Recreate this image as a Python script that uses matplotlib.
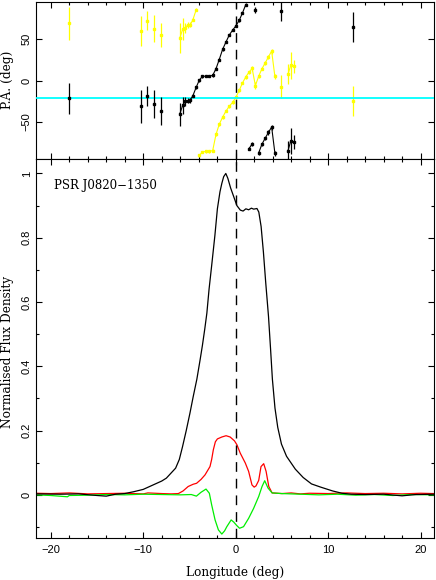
import numpy as np
import matplotlib
matplotlib.use("Agg")
import matplotlib.pyplot as plt

# ---- position angle data (deg)
pa_lon = [-18.0, -10.2, -9.6, -8.85, -8.1, -6.05, -5.74, -5.45, -5.18, -4.92,
          -4.63, -4.27, -3.94, -3.60, -3.23, -2.87, -2.49, -2.13, -1.78, -1.42,
          -1.06, -0.70, -0.33, 0.02, 0.38, 0.73, 1.09, 1.43, 1.78, 2.13,
          2.48, 2.84, 3.19, 3.54, 3.89, 4.24, 4.94, 5.65, 5.96, 6.36, 12.7]
pa_black = [-21.6, -30.9, -19.1, -28.5, -36.6, -40.6, -30.0, -25.2, -24.4, -23.6,
            -18.3, -8.1, 0.4, 5.0, 5.2, 5.3, 6.1, 14.2, 25.2, 37.4,
            46.2, 54.7, 60.8, 65.8, 72.5, 81.3, 91.5, -82.3, -76.4, 84.9,
            -87.4, -76.8, -69.5, -62.6, -56.1, -87.4, 83.3, -85.0, -72.8, -74.0, 65.0]
err_black = [19, 20, 12, 17, 17, 14, 10, 5, 3, 3,
             2, 2, 2, 1.5, 1.5, 1.5, 1.5, 1.5, 1.5, 1.5,
             1.5, 1.5, 1.5, 1.5, 1.5, 1.5, 2, 2, 2.5, 4,
             2, 2, 2, 2.5, 3, 3, 12, 12, 16, 8, 18]
pa_yellow = [69.0, 60.1, 72.3, 62.6, 54.9, 50.8, 61.8, 63.8, 67.0, 67.0,
             73.2, 85.4, -90.2, -86.2, -85.4, -85.4, -84.5, -65.0, -52.8, -44.3,
             -37.0, -31.1, -26.4, -20.3, -12.0, -3.0, 4.3, 10.0, 14.5, -6.1,
             4.9, 14.2, 21.1, 28.4, 35.5, 4.9, -7.3, 7.3, 18.3, 17.0, -25.0]
err_yellow = [20, 18, 12, 16, 14, 18, 13, 6, 4, 3,
              2, 2, 2, 1.5, 1.5, 1.5, 1.5, 1.5, 1.5, 1.5,
              1.5, 1.5, 1.5, 1.5, 1.5, 1.5, 2, 2, 2.5, 4,
              2, 2, 2, 2.5, 3, 3, 14, 12, 16, 8, 18]
pa_ref = -21.6

# ---- profiles (normalised flux)
lon_I = [-21.6, -19, -17, -15, -14, -13, -12, -11, -10, -9, -8, -7.5, -6.5, -6.1,
         -5.75, -5.35, -4.95, -4.6, -4.2, -3.85, -3.6, -3.35, -3.12, -2.88, -2.6,
         -2.25, -1.98, -1.7, -1.5, -1.3, -1.07, -0.85, -0.55, -0.24, 0.13, 0.5,
         0.8, 1.1, 1.4, 1.7, 1.95, 2.3, 2.5, 2.75, 3.0, 3.25, 3.55, 3.77, 3.97,
         4.25, 4.55, 4.95, 5.5, 6.45, 7.3, 8.2, 9.2, 10.5, 11.5, 12.5, 14, 16,
         18, 19.5, 21.4]
prof_I = [0.003, 0.002, 0.003, -0.002, -0.004, 0.002, 0.004, 0.01, 0.017, 0.03,
          0.043, 0.052, 0.083, 0.11, 0.15, 0.2, 0.254, 0.305, 0.36, 0.42, 0.465,
          0.515, 0.565, 0.64, 0.713, 0.807, 0.89, 0.943, 0.969, 0.99, 1.0,
          0.985, 0.955, 0.93, 0.9, 0.886, 0.883, 0.89, 0.887, 0.892, 0.889,
          0.891, 0.88, 0.835, 0.755, 0.66, 0.555, 0.455, 0.36, 0.27, 0.21,
          0.158, 0.12, 0.08, 0.054, 0.034, 0.024, 0.012, 0.005, 0.002, 0.001,
          0.002, -0.003, 0.001, 0.002]

lon_L = [-21.6, -20, -18, -16, -14, -12, -10, -9.5, -8, -7, -6.2, -5.7, -5.14,
         -4.6, -4.23, -3.75, -3.32, -2.78, -2.6, -2.42, -2.2, -1.98, -1.5, -1.04,
         -0.6, -0.13, 0.13, 0.49, 1.04, 1.4, 1.76, 2.0, 2.2, 2.49, 2.74, 3.03,
         3.29, 3.58, 3.94, 5, 6, 7, 8, 10, 12, 14, 16, 18, 20, 21.4]
prof_L = [0.005, 0.004, 0.006, 0.003, 0.004, 0.005, 0.003, 0.006, 0.004, 0.003,
          0.004, 0.012, 0.026, 0.033, 0.036, 0.048, 0.062, 0.088, 0.11, 0.14,
          0.165, 0.174, 0.18, 0.184, 0.18, 0.168, 0.156, 0.13, 0.099, 0.073,
          0.031, 0.024, 0.028, 0.045, 0.088, 0.097, 0.073, 0.026, 0.006, 0.004,
          0.006, 0.003, 0.005, 0.004, 0.006, 0.004, 0.005, 0.003, 0.005, 0.004]

lon_V = [-21.6, -20, -18.2, -18, -16, -14, -12, -10, -8, -6, -4.8, -4.25, -3.75,
         -3.21, -2.85, -2.6, -2.23, -1.87, -1.5, -1.2, -0.96, -0.49, -0.2, 0.1,
         0.42, 0.85, 1.4, 1.94, 2.49, 2.85, 3.14, 3.5, 3.94, 5, 7, 9, 11, 13,
         15, 17, 19, 21.4]
prof_V = [0.0, -0.002, -0.006, -0.002, -0.001, 0.001, 0.0, 0.002, 0.001, 0.0,
          0.001, -0.004, 0.008, 0.018, 0.005, -0.031, -0.078, -0.109, -0.122,
          -0.112, -0.099, -0.078, -0.085, -0.095, -0.104, -0.099, -0.073, -0.042,
          -0.005, 0.026, 0.044, 0.021, 0.006, 0.004, 0.002, 0.0, 0.002, -0.001,
          0.001, -0.002, 0.001, 0.0]

psr_name = "PSR J0820\u22121350"

sans = "Liberation Sans"
serif = "DejaVu Serif"
plt.rcParams["font.family"] = sans
plt.rcParams["axes.linewidth"] = 0.8


def segments(x, y, maxgap=0.5, maxjump=60):
    # split into runs of neighbouring bins, break at PA wraps
    runs, cur = [], [0]
    for i in range(1, len(x)):
        if x[i] - x[i - 1] > maxgap or abs(y[i] - y[i - 1]) > maxjump:
            runs.append(cur)
            cur = []
        cur.append(i)
    runs.append(cur)
    return runs


def draw_pa(ax, x, y, e, col, z):
    x, y, e = np.array(x), np.array(y), np.array(e)
    ax.errorbar(x, y, yerr=e, fmt="s", color=col, ms=1.6, elinewidth=0.9,
                capsize=0, zorder=z)
    for r in segments(x, y):
        if len(r) > 1:
            ax.plot(x[r], y[r], color=col, lw=0.8, zorder=z)


def style(ax):
    ax.tick_params(which="both", direction="in", top=True, right=True,
                   labelsize=8, width=0.8)
    ax.tick_params(which="major", length=4.5)
    ax.tick_params(which="minor", length=2.2)
    ax.tick_params(axis="y", labelrotation=90, pad=3)
    for lab in ax.get_yticklabels():
        lab.set_va("center")


fig = plt.figure(figsize=(4.36, 5.80), dpi=100)
ax1 = fig.add_axes([0.0826, 0.7253, 0.9117, 0.2718])
ax2 = fig.add_axes([0.0826, 0.072, 0.9117, 0.6533])

# top panel: position angle
draw_pa(ax1, pa_lon, pa_yellow, err_yellow, "#ffff00", 2)
ax1.axhline(pa_ref, color="#00ffff", lw=1.3, zorder=3)
draw_pa(ax1, pa_lon, pa_black, err_black, "black", 4)
ax1.axvline(0, color="black", lw=1.0, ls=(0, (7, 5)), zorder=5)
ax1.set_xlim(-21.6, 21.4)
ax1.set_ylim(-95, 95)
ax1.set_yticks([-50, 0, 50])
ax1.set_xticks(np.arange(-20, 21, 10))
ax1.set_xticks(np.arange(-20, 21, 2), minor=True)
ax1.set_xticklabels([])
style(ax1)

# bottom panel: profiles
ax2.plot(lon_I, prof_I, color="black", lw=0.9, zorder=3)
ax2.plot(lon_L, prof_L, color="#ff0000", lw=0.9, zorder=2)
ax2.plot(lon_V, prof_V, color="#00ee00", lw=0.9, zorder=2)
ax2.axvline(0, color="black", lw=1.0, ls=(0, (7, 5)), zorder=4)
ax2.set_xlim(-21.6, 21.4)
ax2.set_ylim(-0.135, 1.044)
ax2.set_xticks(np.arange(-20, 21, 10))
ax2.set_xticks(np.arange(-20, 21, 2), minor=True)
ax2.set_xticklabels(["\u221220", "\u221210", "0", "10", "20"])
ax2.set_yticks([0, 0.2, 0.4, 0.6, 0.8, 1.0])
ax2.set_yticklabels(["0", "0.2", "0.4", "0.6", "0.8", "1"])
ax2.set_yticks(np.arange(-0.1, 1.05, 0.1), minor=True)
style(ax2)
ax2.tick_params(axis="x", pad=5)
ax2.text(0.046, 0.93, psr_name, transform=ax2.transAxes, fontsize=8.5,
         family=serif, va="center", ha="left")

fig.text(8 / 436, 1 - 352 / 580, "Normalised Flux Density", rotation=90,
         ha="center", va="center", fontsize=8.7, family=serif)
fig.text(8 / 436, 1 - 80 / 580, "P.A. (deg)", rotation=90,
         ha="center", va="center", fontsize=8.7, family=serif)
fig.text(235 / 436, 1 - 572.7 / 580, "Longitude (deg)", ha="center",
         va="center", fontsize=8.7, family=serif)

fig.savefig("out.png", dpi=100)
